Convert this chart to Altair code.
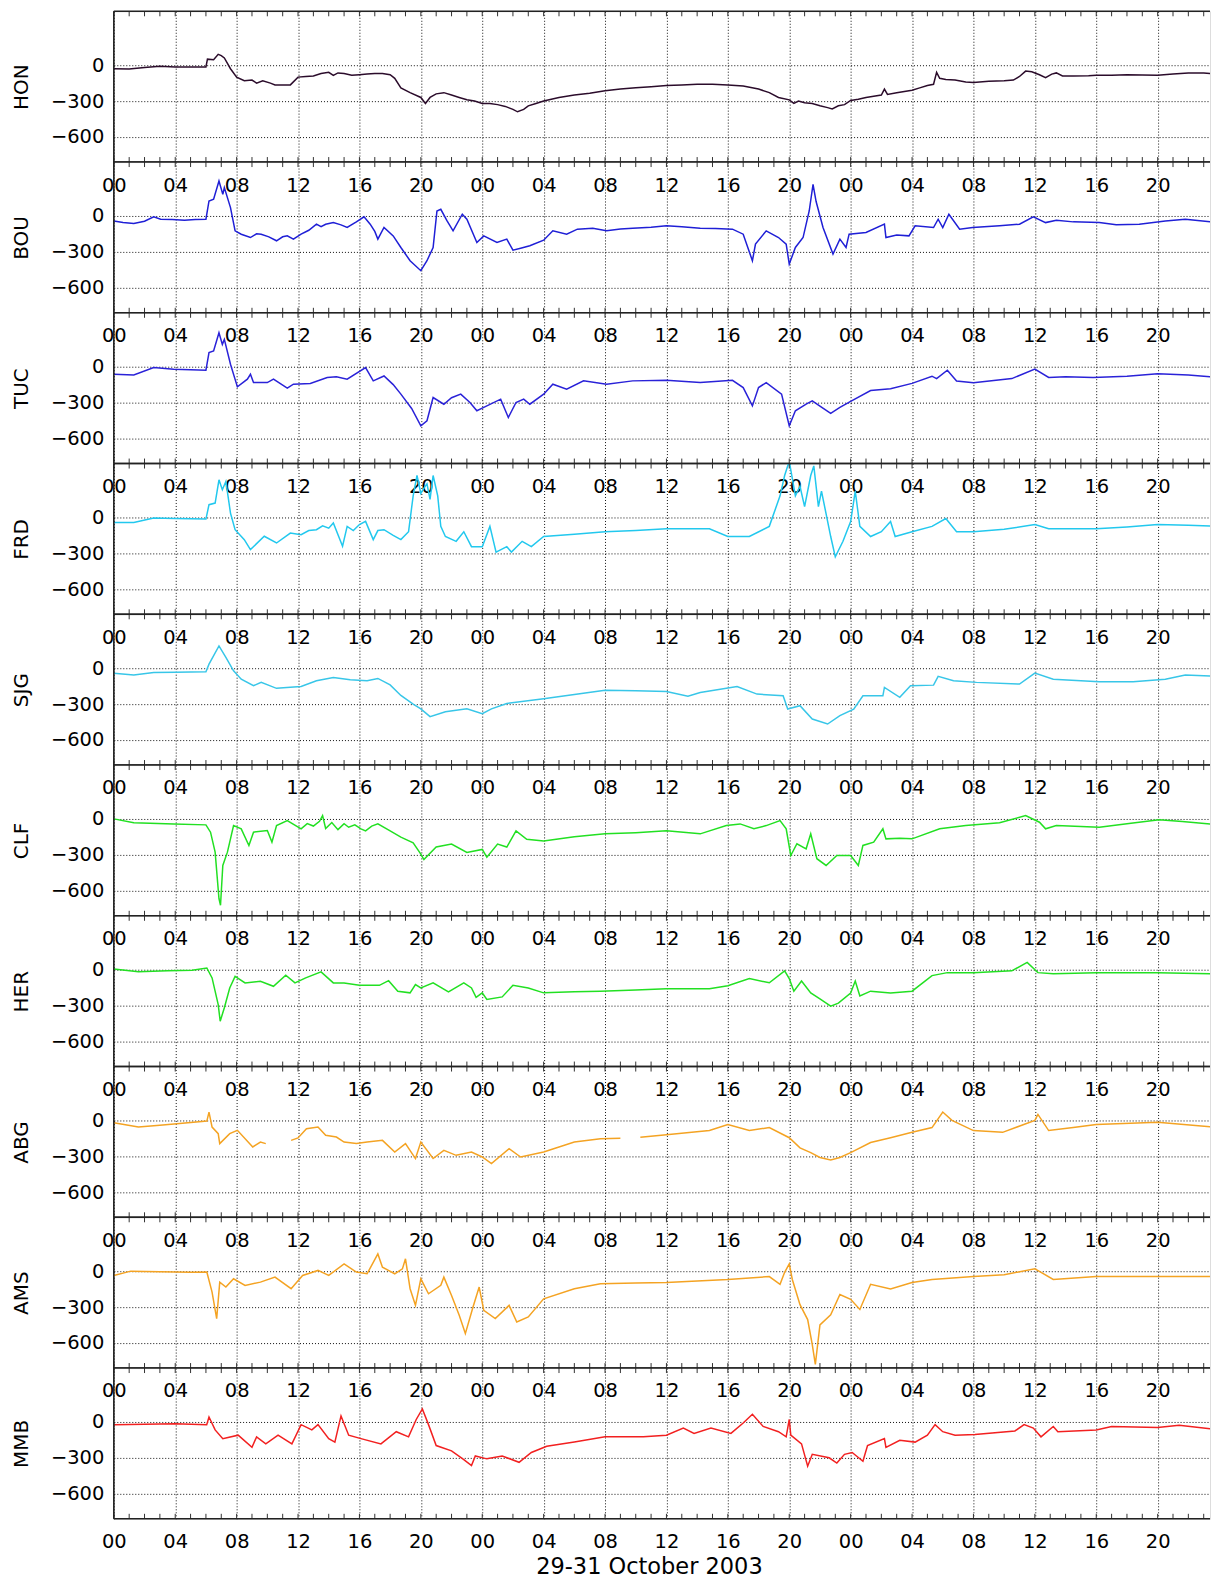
import altair as alt
import pandas as pd

# ---------------- data: [hour since 29 Oct 2003 00 UT, nT] ----------------
HON = [[0, -30], [1, -33], [2, -20], [3, -10], [4, -15], [5, -15], [6.0, -15], [6.1, 50], [6.5, 45], [6.8, 90],
       [7.0, 80], [7.2, 60], [7.6, -30], [8.0, -100], [8.5, -130], [9.0, -125], [9.3, -150], [9.7, -130],
       [10.2, -150], [10.5, -165], [11.0, -165], [11.5, -165], [12.0, -100], [12.5, -95], [13.0, -90], [13.5, -70],
       [14.0, -60], [14.3, -85], [14.6, -65], [15.0, -70], [15.5, -85], [16.0, -80], [16.5, -75], [17.0, -70],
       [17.5, -70], [18.0, -80], [18.3, -110], [18.7, -190], [19.3, -230], [20.0, -270], [20.3, -320],
       [20.6, -270], [21.0, -240], [21.5, -230], [22.0, -250], [22.5, -270], [23.0, -290], [23.5, -300],
       [24.0, -320], [24.5, -320], [25.0, -330], [25.5, -345], [26.0, -370], [26.3, -390], [26.7, -370],
       [27.0, -340], [27.5, -320], [28.0, -300], [29.0, -270], [30.0, -250], [31.0, -235], [32.0, -215],
       [33.0, -200], [34.0, -190], [35.0, -180], [36.0, -170], [37.0, -165], [38.0, -160], [39.0, -160],
       [40.0, -165], [41.0, -175], [42.0, -200], [42.7, -230], [43.3, -270], [44.0, -290], [44.3, -320],
       [44.6, -300], [45.0, -315], [45.5, -320], [46.0, -340], [46.5, -355], [46.8, -366], [47.2, -340],
       [47.6, -330], [48.0, -295], [48.5, -285], [49.0, -270], [49.5, -260], [50.0, -250], [50.2, -200],
       [50.4, -245], [51.0, -230], [52.0, -210], [52.5, -190], [53.0, -170], [53.4, -160], [53.6, -60],
       [53.8, -110], [54.2, -120], [54.8, -125], [55.5, -140], [56.0, -145], [57.0, -135], [58.0, -130],
       [58.6, -125], [59.0, -95], [59.4, -50], [59.8, -55], [60.3, -80], [60.7, -105], [61.1, -75], [61.4, -65],
       [61.8, -90], [62.5, -90], [63.5, -88], [64.0, -85], [65.0, -85], [66.0, -80], [67.0, -82], [68.0, -85],
       [69.0, -75], [70.0, -65], [71.0, -65], [72.0, -75]]

BOU = [[0, -42], [0.6, -55], [1.3, -64], [2.0, -45], [2.6, -8], [3.05, -28], [3.8, -30], [4.6, -36], [5.3, -30],
       [6.0, -28], [6.2, 125], [6.5, 139], [6.85, 292], [7.1, 180], [7.2, 236], [7.6, 69], [7.9, -125],
       [8.3, -153], [8.9, -181], [9.3, -150], [9.6, -153], [10.1, -175], [10.6, -208], [11.0, -175], [11.3, -167],
       [11.7, -194], [12.2, -153], [12.7, -120], [13.2, -69], [13.5, -90], [13.8, -70], [14.3, -56], [14.8, -75],
       [15.2, -97], [15.8, -50], [16.3, -8], [16.7, -69], [17.0, -130], [17.2, -194], [17.6, -97], [18.2, -167],
       [18.7, -264], [19.3, -375], [20.0, -458], [20.4, -375], [20.8, -264], [21.05, 41], [21.3, 55], [21.7, -40],
       [22.1, -125], [22.7, 14], [23.0, -28], [23.65, -222], [24.1, -167], [24.96, -222], [25.6, -194],
       [26.0, -286], [26.5, -270], [27.1, -250], [28.0, -203], [28.6, -125], [29.5, -153], [30.2, -111],
       [31.2, -103], [32.1, -125], [33.0, -110], [33.8, -103], [35.0, -95], [36.0, -83], [37.0, -90],
       [38.2, -103], [39.2, -105], [40.3, -111], [41.0, -153], [41.6, -375], [41.8, -236], [42.5, -125],
       [43.3, -181], [43.8, -236], [44.0, -403], [44.4, -264], [44.9, -181], [45.3, 41], [45.55, 264],
       [45.75, 120], [46.2, -97], [46.85, -319], [47.3, -194], [47.7, -264], [47.9, -153], [49.0, -139],
       [50.2, -69], [50.3, -181], [51.0, -160], [51.8, -167], [52.2, -83], [53.4, -97], [53.7, -28], [54.0, -97],
       [54.4, 14], [55.1, -111], [55.95, -97], [57.7, -83], [59.0, -69], [59.9, -8], [60.7, -56], [61.4, -36],
       [62.5, -50], [64.2, -56], [65.3, -75], [66.8, -69], [68.5, -42], [69.8, -28], [72.0, -56]]

TUC = [[0, -64], [1.3, -69], [2.6, -8], [3.9, -22], [5.0, -25], [6.0, -30], [6.2, 117], [6.5, 131], [6.85, 283],
       [7.07, 186], [7.2, 228], [7.6, 20], [8.05, -169], [8.7, -105], [8.9, -64], [9.1, -133], [10.0, -133],
       [10.4, -105], [11.3, -180], [11.7, -147], [12.8, -141], [13.9, -91], [14.5, -85], [15.2, -105],
       [16.4, -8], [16.9, -119], [17.6, -78], [18.2, -150], [18.7, -230], [19.4, -350], [20.0, -494],
       [20.4, -452], [20.8, -258], [21.5, -314], [22.0, -260], [22.6, -230], [23.2, -300], [23.65, -369],
       [24.1, -341], [25.2, -272], [25.7, -425], [26.2, -300], [26.7, -272], [27.1, -314], [28.0, -230],
       [28.6, -147], [29.5, -189], [30.6, -119], [32.1, -147], [33.8, -119], [36.0, -114], [38.2, -133],
       [40.3, -114], [41.0, -175], [41.6, -328], [42.0, -175], [42.5, -133], [43.5, -230], [44.0, -494],
       [44.4, -369], [45.1, -314], [45.5, -286], [46.0, -330], [46.7, -390], [47.3, -340], [48.0, -290],
       [49.3, -200], [50.6, -185], [52.0, -140], [53.3, -80], [53.6, -100], [54.3, -30], [54.9, -120],
       [56.0, -135], [58.5, -100], [60.0, -20], [60.9, -90], [62.0, -85], [63.8, -90], [66.0, -80], [68.0, -60],
       [70.0, -70], [72.0, -90]]

FRD = [[0, -42], [1.3, -42], [2.6, -6], [4.0, -10], [6.0, -14], [6.2, 106], [6.6, 120], [6.85, 314], [7.07, 231],
       [7.3, 300], [7.6, 36], [7.9, -103], [8.5, -186], [8.9, -269], [9.8, -158], [10.6, -214], [11.5, -131],
       [12.2, -144], [12.7, -110], [13.2, -103], [13.6, -70], [14.0, -90], [14.3, -47], [14.9, -241], [15.2, -75],
       [15.6, -110], [16.0, -60], [16.4, -33], [16.9, -186], [17.2, -110], [17.6, -103], [18.2, -150],
       [18.7, -186], [19.2, -120], [19.5, 180], [19.75, 350], [20.0, 200], [20.2, 245], [20.4, 280], [20.6, 150],
       [20.8, 350], [21.1, 180], [21.3, -75], [21.6, -160], [22.3, -200], [22.8, -120], [23.3, -245],
       [24.0, -245], [24.5, -75], [24.9, -290], [25.6, -245], [25.9, -290], [26.6, -200], [27.2, -245],
       [28.0, -160], [30.0, -140], [32.0, -120], [34.0, -110], [36.0, -95], [38.8, -95], [40.0, -160],
       [41.4, -160], [42.7, -75], [43.4, 180], [43.7, 350], [44.0, 470], [44.4, 180], [44.7, 260], [45.0, 90],
       [45.4, 350], [45.6, 430], [45.9, 90], [46.1, 220], [46.7, -160], [47.0, -330], [47.5, -200], [48.0, -35],
       [48.3, 220], [48.6, -75], [49.3, -160], [50.0, -120], [50.6, -35], [50.9, -160], [52.0, -120],
       [53.3, -75], [54.2, -10], [54.9, -120], [56.0, -120], [58.0, -100], [60.0, -60], [60.9, -95], [64.0, -95],
       [66.0, -80], [68.0, -60], [70.0, -65], [72.0, -75]]

SJG = [[0, -42], [1.3, -58], [2.6, -36], [4.0, -35], [6.0, -31], [6.2, 33], [6.85, 186], [7.3, 90], [7.8, -22],
       [8.3, -92], [9.1, -147], [9.6, -119], [10.6, -169], [11.5, -160], [12.2, -153], [13.2, -106], [14.3, -78],
       [15.4, -97], [16.5, -106], [17.2, -86], [18.0, -140], [18.7, -228], [19.5, -300], [20.0, -340],
       [20.6, -405], [21.6, -365], [23.0, -340], [24.0, -380], [24.6, -340], [25.6, -295], [28.0, -255],
       [30.0, -220], [32.0, -185], [34.0, -190], [36.0, -195], [37.4, -235], [38.2, -203], [40.6, -153],
       [41.9, -217], [43.6, -231], [43.9, -342], [44.7, -314], [45.5, -425], [46.5, -467], [47.3, -397],
       [48.2, -342], [48.8, -231], [50.1, -231], [50.2, -161], [51.2, -244], [51.9, -147], [53.4, -142],
       [53.7, -69], [54.7, -106], [56.2, -119], [59.0, -133], [60.0, -42], [61.2, -92], [64.2, -114],
       [66.4, -114], [68.5, -92], [69.8, -58], [72.0, -69]]

CLF = [[0, 0], [1.3, -33], [3.9, -42], [6.0, -50], [6.3, -111], [6.6, -278], [6.85, -667], [6.95, -722],
       [7.1, -389], [7.4, -278], [7.8, -56], [8.3, -83], [8.8, -222], [9.1, -111], [10.0, -97], [10.3, -194],
       [10.6, -56], [11.3, -14], [12.2, -83], [12.6, -40], [13.0, -60], [13.4, -20], [13.6, 28], [13.8, -80],
       [14.2, -30], [14.6, -90], [15.0, -40], [15.3, -70], [15.7, -50], [16.1, -83], [16.4, -100], [16.8, -60],
       [17.2, -42], [18.0, -100], [18.7, -153], [19.5, -200], [20.0, -295], [20.2, -340], [21.0, -235],
       [22.0, -210], [23.0, -280], [24.0, -255], [24.3, -320], [25.0, -210], [25.6, -235], [26.2, -100],
       [26.9, -170], [28.0, -185], [30.0, -150], [32.0, -125], [34.0, -115], [36.0, -100], [38.2, -125],
       [39.9, -56], [40.8, -42], [41.7, -83], [42.5, -56], [43.4, -14], [43.8, -83], [44.1, -306], [44.5, -208],
       [45.1, -250], [45.4, -125], [45.8, -333], [46.4, -389], [47.1, -306], [48.0, -306], [48.5, -389],
       [48.8, -222], [49.5, -194], [50.1, -83], [50.3, -167], [51.2, -161], [52.0, -167], [53.8, -83],
       [55.5, -56], [57.7, -33], [59.4, 28], [60.3, -28], [60.7, -83], [61.4, -56], [64.2, -69], [66.0, -40],
       [68.1, -8], [69.6, -22], [72.0, -50]]

HER = [[0, 6], [1.6, -17], [3.5, -10], [5.1, -6], [6.06, 14], [6.4, -69], [6.8, -292], [6.93, -431], [7.2, -319],
       [7.55, -153], [7.9, -56], [8.55, -111], [9.55, -97], [10.4, -139], [11.2, -47], [11.8, -111], [12.5, -69],
       [13.5, -19], [14.3, -111], [15.0, -111], [16.0, -131], [17.3, -131], [17.9, -92], [18.5, -181],
       [19.3, -194], [19.65, -125], [20.0, -153], [20.8, -111], [21.8, -186], [22.8, -111], [23.3, -153],
       [23.6, -231], [24.0, -194], [24.3, -250], [25.3, -228], [26.0, -131], [27.0, -153], [28.0, -194],
       [30.0, -185], [31.7, -181], [34.0, -170], [36.0, -160], [38.8, -160], [40.0, -135], [41.4, -75],
       [42.7, -110], [43.7, -10], [44.0, -75], [44.3, -180], [44.8, -95], [45.4, -195], [46.0, -245],
       [46.7, -305], [47.2, -280], [48.0, -195], [48.3, -95], [48.6, -220], [49.3, -180], [50.6, -195],
       [52.0, -180], [53.3, -50], [54.3, -25], [56.0, -25], [58.5, -10], [59.5, 60], [60.2, -25], [61.2, -35],
       [64.0, -25], [68.0, -25], [72.0, -35]]

# ABG has two data gaps: three separate pieces
ABG_1 = [[0, -19], [1.6, -56], [3.0, -40], [4.1, -28], [6.06, -6], [6.2, 69], [6.4, -56], [6.8, -111],
         [6.9, -194], [7.55, -111], [8.05, -83], [9.05, -222], [9.55, -181], [9.9, -194]]
ABG_2 = [[11.55, -167], [12.0, -147], [12.55, -69], [13.3, -56], [13.8, -125], [14.5, -139], [15.0, -181],
         [15.8, -194], [16.5, -181], [17.5, -167], [18.3, -264], [19.0, -194], [19.65, -319], [20.0, -181],
         [20.8, -319], [21.5, -250], [22.3, -292], [23.3, -264], [24.0, -306], [24.6, -361], [25.75, -236],
         [26.5, -306], [28.0, -264], [30.0, -181], [31.7, -153], [33.0, -150]]
ABG_3 = [[34.3, -140], [36.0, -120], [38.8, -85], [40.0, -35], [41.4, -85], [42.7, -60], [44.0, -145],
         [44.7, -230], [45.4, -270], [46.0, -310], [46.7, -330], [47.3, -310], [48.0, -270], [49.3, -185],
         [50.6, -145], [52.0, -100], [53.3, -60], [54.0, 70], [54.6, 0], [56.0, -85], [57.9, -100], [60.0, 0],
         [60.2, 50], [60.9, -85], [62.5, -60], [64.0, -35], [68.0, -15], [72.0, -60]]

AMS = [[0, -36], [1.1, 0], [3.0, -5], [5.0, -10], [6.06, -8], [6.4, -175], [6.7, -397], [6.9, -92], [7.3, -133],
       [7.8, -64], [8.55, -119], [9.55, -92], [10.5, -50], [11.55, -147], [12.3, -36], [13.3, 6], [14.0, -36],
       [15.0, 61], [15.8, -8], [16.5, -22], [17.2, 144], [17.5, 33], [18.3, -22], [18.8, 19], [19.0, 103],
       [19.3, -147], [19.65, -286], [20.0, -64], [20.5, -189], [21.3, -119], [21.5, -50], [22.0, -203],
       [22.5, -369], [22.9, -522], [23.4, -300], [23.8, -133], [24.1, -328], [24.85, -397], [25.75, -286],
       [26.25, -425], [27.0, -383], [28.0, -231], [30.0, -147], [31.7, -106], [34.0, -100], [36.0, -95],
       [40.0, -70], [42.7, -45], [43.4, -110], [43.7, -10], [44.0, 60], [44.2, -70], [44.7, -280], [45.2, -405],
       [45.5, -615], [45.7, -780], [46.0, -450], [46.7, -365], [47.3, -195], [48.0, -235], [48.6, -320],
       [49.3, -110], [50.6, -150], [52.0, -95], [53.3, -70], [56.0, -45], [58.0, -30], [60.0, 20], [61.2, -70],
       [64.0, -45], [68.0, -45], [72.0, -45]]

MMB = [[0, -23], [2.0, -20], [4.0, -15], [6.05, -23], [6.2, 41], [6.6, -67], [7.1, -140], [8.1, -111],
       [9.0, -213], [9.3, -125], [9.9, -184], [10.7, -111], [11.6, -184], [12.2, -23], [12.9, -67], [13.3, -23],
       [14.0, -140], [14.4, -169], [14.8, 50], [15.3, -111], [16.1, -140], [17.4, -184], [18.4, -82],
       [19.2, -125], [19.7, 20], [20.1, 108], [20.5, -23], [21.0, -198], [22.0, -242], [22.8, -315],
       [23.3, -365], [23.55, -285], [24.3, -309], [25.3, -285], [26.4, -338], [27.2, -256], [28.2, -204],
       [30.0, -169], [32.0, -125], [34.5, -125], [36.0, -111], [37.1, -52], [37.8, -96], [38.9, -52],
       [40.2, -96], [41.0, -9], [41.6, 64], [42.3, -38], [43.3, -82], [43.8, -125], [44.0, 20], [44.1, -111],
       [44.8, -184], [45.2, -370], [45.5, -271], [46.6, -300], [47.1, -344], [47.6, -271], [48.1, -256],
       [48.8, -329], [49.1, -198], [50.2, -140], [50.3, -213], [51.2, -154], [52.2, -169], [53.0, -111],
       [53.5, -23], [54.0, -82], [54.8, -111], [56.1, -105], [58.7, -76], [59.3, -23], [59.9, -52],
       [60.4, -125], [61.2, -38], [61.5, -82], [64.0, -67], [65.0, -38], [68.0, -47], [69.4, -29], [72.0, -67]]

STATIONS = ["HON", "BOU", "TUC", "FRD", "SJG", "CLF", "HER", "ABG", "AMS", "MMB"]
COLORS = ["#2b0c2b", "#1f1fd6", "#2a22d8", "#22c8ee", "#38c6e8", "#22e022", "#22e022", "#f4a323", "#f4a323",
          "#f22020"]
SERIES = {"HON": [HON], "BOU": [BOU], "TUC": [TUC], "FRD": [FRD], "SJG": [SJG], "CLF": [CLF], "HER": [HER],
          "ABG": [ABG_1, ABG_2, ABG_3], "AMS": [AMS], "MMB": [MMB]}
X_TICKS = list(range(0, 72, 4))
MINOR_TICKS = list(range(0, 72))
Y_TICKS = [0, -300, -600]
XLABEL = "29-31 October 2003"
# the original figure is cropped on the right, just before 24 UT of the last day
X_DOMAIN = [0, 71.41]
Y_DOMAIN = [-810, 450]

FONT = "DejaVu Sans"
W = 1098
H = 151
FRAME = "#222"

label_expr = "(datum.value % 24 < 10 ? '0' : '') + (datum.value % 24)"
ticks_df = pd.DataFrame({"hour": MINOR_TICKS})
one_df = pd.DataFrame({"k": [0]})

panels = []
for i, name in enumerate(STATIONS):
    rows = []
    for k, piece in enumerate(SERIES[name]):
        for h, v in piece:
            rows.append({"hour": h, "value": v, "seg": k})
    df = pd.DataFrame(rows)
    last = i == len(STATIONS) - 1
    xaxis = alt.Axis(values=X_TICKS, labelExpr=label_expr, grid=True, gridDash=[1, 2], gridColor="#111",
                     gridWidth=1, ticks=False, domain=False, labelFlush=False, labelPadding=14,
                     labelFontSize=19.5, labelFont=FONT, labelColor="#000", labelOverlap=False,
                     title=XLABEL if last else None, titleFontSize=22.5, titleFont=FONT,
                     titleFontWeight="normal", titleColor="#000", titlePadding=4, titleX=536)
    yaxis = alt.Axis(values=Y_TICKS, grid=True, gridDash=[1, 2], gridColor="#111", gridWidth=1,
                     ticks=False, domain=False, labelPadding=10, labelFontSize=19.5, labelFont=FONT,
                     labelColor="#000", title=name, titleFontSize=20, titleFont=FONT,
                     titleFontWeight="normal", titleColor="#000", titlePadding=19)
    xs = alt.Scale(domain=X_DOMAIN, nice=False, zero=False)
    ys = alt.Scale(domain=Y_DOMAIN, nice=False, zero=False)
    line = alt.Chart(df).mark_line(color=COLORS[i], strokeWidth=1.5, clip=True).encode(
        x=alt.X("hour:Q", scale=xs, axis=xaxis),
        y=alt.Y("value:Q", scale=ys, axis=yaxis),
        detail="seg:N",
    )
    top_t = alt.Chart(ticks_df).mark_rule(color="#333", strokeWidth=1).encode(
        x=alt.X("hour:Q", scale=xs, axis=xaxis), y=alt.value(0), y2=alt.value(5))
    bot_t = alt.Chart(ticks_df).mark_rule(color="#333", strokeWidth=1).encode(
        x=alt.X("hour:Q", scale=xs, axis=xaxis), y=alt.value(H - 5), y2=alt.value(H))
    # frame: top, bottom and left edges (the right edge is cropped away in the original)
    f_top = alt.Chart(one_df).mark_rule(color=FRAME, strokeWidth=1.6).encode(
        x=alt.value(0), x2=alt.value(W), y=alt.value(0))
    f_bot = alt.Chart(one_df).mark_rule(color=FRAME, strokeWidth=1.6).encode(
        x=alt.value(0), x2=alt.value(W), y=alt.value(H))
    f_left = alt.Chart(one_df).mark_rule(color=FRAME, strokeWidth=1.6).encode(
        x=alt.value(0), y=alt.value(0), y2=alt.value(H))
    panels.append(alt.layer(line, top_t, bot_t, f_top, f_bot, f_left).properties(width=W, height=H))

chart = alt.vconcat(*panels, spacing=0, bounds="flush").properties(
    padding={"left": 2, "top": 0, "right": 0, "bottom": 0}
).configure_view(stroke="transparent", strokeWidth=0).configure(background="white")

chart.save("out.html", embed_options={"renderer": "svg", "actions": False})
